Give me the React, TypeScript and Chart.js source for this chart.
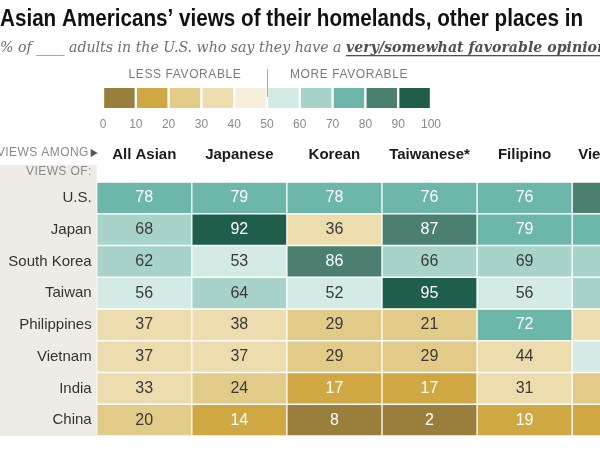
import React, { useEffect, useRef } from "react";
import { Chart, registerables } from "chart.js";

Chart.register(...registerables);

// ---------- data ----------
const TITLE = "Asian Americans’ views of their homelands, other places in";
const SUB_PRE = "% of ____ adults in the U.S. who say they have a ";
const SUB_BOLD = "very/somewhat favorable opinion";
const SUB_POST = " of each";

const viewsOf = ["U.S.", "Japan", "South Korea", "Taiwan", "Philippines", "Vietnam", "India", "China"];
const viewsAmong = ["All Asian", "Japanese", "Korean", "Taiwanese*", "Filipino", "Vietnamese"];

const allAsian = [78, 68, 62, 56, 37, 37, 33, 20];
const japanese = [79, 92, 53, 64, 38, 37, 24, 14];
const korean = [78, 36, 86, 52, 29, 29, 17, 8];
const taiwanese = [76, 87, 66, 95, 21, 29, 17, 2];
const filipino = [76, 79, 69, 56, 72, 44, 31, 19];
const vietnamese = [84, 76, 66, 63, 34, 57, 27, 14];
const columnValues = [allAsian, japanese, korean, taiwanese, filipino, vietnamese];

const legendTicks = [0, 10, 20, 30, 40, 50, 60, 70, 80, 90, 100];
const binColors = [
  "#9a7e3c", "#d0a843", "#e2ca88", "#ecdcae", "#f6eddb",
  "#d4eae5", "#a7d3ca", "#6cb6aa", "#4b7f6f", "#1e5e4a",
];
const colorThresholds = [10, 20, 30, 45, 50, 60, 70, 80, 90];

const SANS = '"Liberation Sans", Arial, sans-serif';
const SERIF = '"DejaVu Serif", Georgia, serif';

function colorFor(v: number) {
  let i = 0;
  while (i < colorThresholds.length && v >= colorThresholds[i]) i++;
  return binColors[i];
}
function textColorFor(v: number) {
  return v < 20 || v >= 70 ? "#ffffff" : "#3a3a3a";
}

// ---------- plugins ----------
const mainDecor = {
  id: "mainDecor",
  beforeDraw(chart: any) {
    const ctx = chart.ctx as CanvasRenderingContext2D;
    const ca = chart.chartArea;
    ctx.save();
    // label column background
    ctx.fillStyle = "#efece6";
    ctx.fillRect(0, ca.top - 17, ca.left, ca.bottom - ca.top + 17);

    // title
    ctx.fillStyle = "#111";
    ctx.textBaseline = "alphabetic";
    ctx.textAlign = "left";
    ctx.font = "bold 23px " + SANS;
    const tw = ctx.measureText(TITLE).width;
    ctx.save();
    ctx.translate(0, 26);
    ctx.scale(583 / tw, 1);
    ctx.fillText(TITLE, 0, 0);
    ctx.restore();

    // subtitle
    ctx.font = "italic 15px " + SERIF;
    const pw = ctx.measureText(SUB_PRE).width;
    ctx.save();
    ctx.translate(0, 52);
    ctx.scale(346 / pw, 1);
    ctx.fillStyle = "#6e6e6e";
    ctx.fillText(SUB_PRE, 0, 0);
    ctx.font = "italic bold 15px " + SERIF;
    ctx.fillStyle = "#505050";
    ctx.fillText(SUB_BOLD, pw, 0);
    const bw = ctx.measureText(SUB_BOLD).width;
    ctx.fillRect(pw, 3, bw, 1.3);
    ctx.font = "italic 15px " + SERIF;
    ctx.fillStyle = "#6e6e6e";
    ctx.fillText(SUB_POST, pw + bw, 0);
    ctx.restore();

    // small header labels
    ctx.fillStyle = "#8a8a8a";
    ctx.font = "12px " + SANS;
    (ctx as any).letterSpacing = "0.4px";
    ctx.textBaseline = "middle";
    ctx.textAlign = "right";
    ctx.fillText("VIEWS AMONG", ca.left - 8, ca.top - 29);
    ctx.beginPath();
    ctx.moveTo(ca.left - 6, ca.top - 33);
    ctx.lineTo(ca.left + 1, ca.top - 29);
    ctx.lineTo(ca.left - 6, ca.top - 25);
    ctx.closePath();
    ctx.fillStyle = "#555";
    ctx.fill();
    ctx.fillStyle = "#8a8a8a";
    ctx.fillText("VIEWS OF:", ca.left - 5, ca.top - 10);
    ctx.restore();
  },
  afterDatasetsDraw(chart: any) {
    const ctx = chart.ctx as CanvasRenderingContext2D;
    ctx.save();
    ctx.font = "16px " + SANS;
    ctx.textAlign = "center";
    ctx.textBaseline = "middle";
    chart.data.datasets.forEach((_ds: any, di: number) => {
      const meta = chart.getDatasetMeta(di);
      meta.data.forEach((el: any, ri: number) => {
        const v = columnValues[di][ri];
        const p = el.getCenterPoint();
        ctx.fillStyle = textColorFor(v);
        ctx.fillText(String(v), p.x, p.y);
      });
    });
    ctx.restore();
  },
};

const legendDecor = {
  id: "legendDecor",
  afterDraw(chart: any) {
    const ctx = chart.ctx as CanvasRenderingContext2D;
    const x = chart.scales.x;
    const ca = chart.chartArea;
    const x0 = x.getPixelForValue(0);
    const x50 = x.getPixelForValue(50);
    const x100 = x.getPixelForValue(100);
    ctx.save();
    ctx.strokeStyle = "#a8a8a8";
    ctx.lineWidth = 1;
    ctx.beginPath();
    ctx.moveTo(Math.round(x50) + 0.5, 7);
    ctx.lineTo(Math.round(x50) + 0.5, ca.top + 9);
    ctx.stroke();
    ctx.fillStyle = "#7a7a7a";
    ctx.font = "12px " + SANS;
    (ctx as any).letterSpacing = "0.6px";
    ctx.textAlign = "center";
    ctx.textBaseline = "middle";
    ctx.fillText("LESS FAVORABLE", (x0 + x50) / 2, 13);
    ctx.fillText("MORE FAVORABLE", (x50 + x100) / 2, 13);
    ctx.restore();
  },
};

export default function App() {
  const mainRef = useRef<HTMLCanvasElement>(null);
  const legendRef = useRef<HTMLCanvasElement>(null);

  useEffect(() => {
    const main = new Chart(mainRef.current as HTMLCanvasElement, {
      type: "bar",
      data: {
        labels: viewsOf,
        datasets: viewsAmong.map((name, j) => ({
          label: name,
          data: viewsOf.map(() => 1),
          backgroundColor: columnValues[j].map(colorFor),
          borderColor: "#ffffff",
          borderWidth: 1,
          borderSkipped: false,
          barPercentage: 1,
          categoryPercentage: 1,
        })),
      },
      options: {
        indexAxis: "y",
        responsive: false,
        animation: false,
        events: [],
        layout: { padding: { top: 0, right: 9, bottom: 10, left: 0 } },
        plugins: { legend: { display: false }, tooltip: { enabled: false }, title: { display: false } },
        scales: {
          x: {
            type: "linear",
            position: "top",
            stacked: true,
            min: 0,
            max: viewsAmong.length,
            grid: { display: false, drawTicks: false },
            border: { display: false },
            afterFit: (s: any) => {
              s.height = 182;
            },
            afterBuildTicks: (s: any) => {
              s.ticks = viewsAmong.map((_n, i) => ({ value: i + 0.5 }));
            },
            ticks: {
              autoSkip: false,
              maxRotation: 0,
              padding: 18,
              color: "#1a1a1a",
              font: { family: SANS, size: 15, weight: "bold" },
              callback: (_v: any, i: number) => viewsAmong[i],
            },
          },
          y: {
            type: "category",
            stacked: true,
            grid: { display: false, drawTicks: false },
            border: { display: false },
            afterFit: (s: any) => {
              s.width = 96.7;
            },
            ticks: {
              padding: 5,
              color: "#333",
              font: { family: SANS, size: 15 },
            },
          },
        },
      } as any,
      plugins: [mainDecor],
    });

    const legend = new Chart(legendRef.current as HTMLCanvasElement, {
      type: "bar",
      data: {
        labels: [""],
        datasets: binColors.map((c, i) => ({
          label: legendTicks[i] + "-" + legendTicks[i + 1],
          data: [legendTicks[i + 1] - legendTicks[i]],
          backgroundColor: c,
          borderColor: "#ffffff",
          borderWidth: { left: 1.5, right: 1.5, top: 0, bottom: 0 },
          borderSkipped: false,
          barPercentage: 1,
          categoryPercentage: 1,
        })),
      },
      options: {
        indexAxis: "y",
        responsive: false,
        animation: false,
        events: [],
        layout: { padding: { left: 13, right: 17, top: 26, bottom: 0 } },
        plugins: { legend: { display: false }, tooltip: { enabled: false } },
        scales: {
          x: {
            type: "linear",
            stacked: true,
            min: 0,
            max: 100,
            grid: { display: false, drawTicks: false },
            border: { display: false },
            afterBuildTicks: (s: any) => {
              s.ticks = legendTicks.map((v) => ({ value: v }));
            },
            ticks: {
              autoSkip: false,
              maxRotation: 0,
              padding: 9,
              color: "#8a8a8a",
              font: { family: SANS, size: 12 },
            },
          },
          y: { stacked: true, display: false },
        },
      } as any,
      plugins: [legendDecor],
    });

    return () => {
      main.destroy();
      legend.destroy();
    };
  }, []);

  return (
    <div
      style={{
        position: "fixed",
        left: 0,
        top: 0,
        width: 600,
        height: 450,
        overflow: "hidden",
        background: "#ffffff",
      }}
    >
      <canvas ref={mainRef} width={680} height={450} style={{ position: "absolute", left: 0, top: 0 }} />
      <canvas ref={legendRef} width={360} height={66} style={{ position: "absolute", left: 90, top: 62 }} />
    </div>
  );
}
